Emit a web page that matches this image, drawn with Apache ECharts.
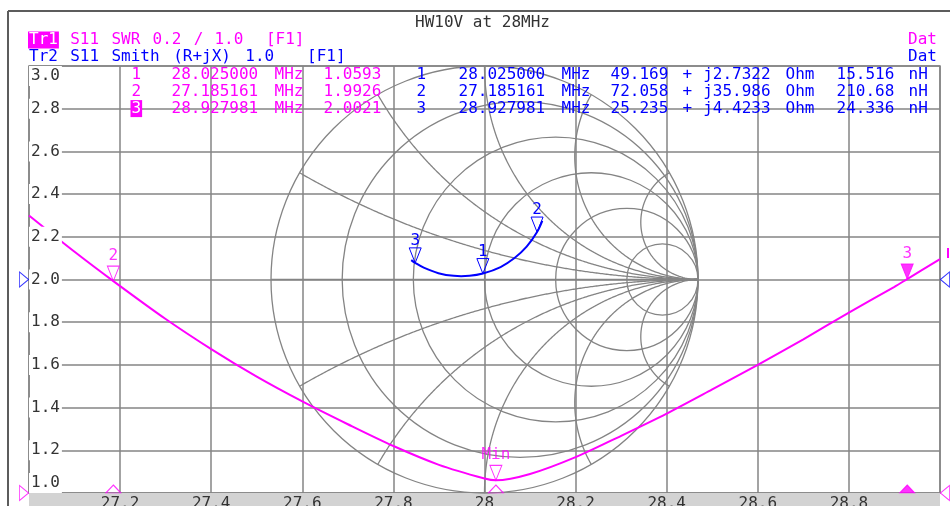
<!DOCTYPE html>
<html>
<head>
<meta charset="utf-8">
<script src="https://cdn.jsdelivr.net/npm/echarts@6/dist/echarts.min.js"></script>
<style>html,body{margin:0;padding:0;background:#fff}#c{width:950px;height:506px}</style>
</head>
<body>
<div id="c"></div>
<script>
// ---------------- data ----------------
const titleText = 'HW10V at 28MHz';
const trace1Name = 'Tr1';
const trace1Label = 'S11 SWR 0.2 / 1.0  [F1]';
const trace2Label = 'Tr2 S11 Smith (R+jX) 1.0   [F1]';
const dataLabel = 'Dat';

const xTicks = [27.0, 27.2, 27.4, 27.6, 27.8, 28.0, 28.2, 28.4, 28.6, 28.8, 29.0];
const xTickLabels = ['', '27.2', '27.4', '27.6', '27.8', '28', '28.2', '28.4', '28.6', '28.8', ''];
const yTicks = [1.0, 1.2, 1.4, 1.6, 1.8, 2.0, 2.2, 2.4, 2.6, 2.8, 3.0];
const yTickLabels = ['1.0', '1.2', '1.4', '1.6', '1.8', '2.0', '2.2', '2.4', '2.6', '2.8', '3.0'];

// SWR trace (Tr1)
const swrFreq = [27.0, 27.1, 27.185161, 27.3, 27.4, 27.5, 27.6, 27.7, 27.8, 27.9, 28.0, 28.025, 28.1, 28.2, 28.3, 28.4, 28.5, 28.6, 28.7, 28.8, 28.9, 28.927981, 29.0];
const swrValue = [2.30, 2.13, 1.9926, 1.815, 1.674, 1.545, 1.429, 1.322, 1.22, 1.132, 1.068, 1.0593, 1.089, 1.168, 1.268, 1.372, 1.485, 1.60, 1.72, 1.845, 1.966, 2.0021, 2.095];

// Smith trace (Tr2), impedance in Ohm
const smithFreq = [27.0, 27.185161, 27.4, 27.6, 27.8, 28.025, 28.2, 28.4, 28.6, 28.8, 28.927981, 29.0];
const smithR = [70.1, 72.058, 70.2, 64.8, 57.7, 49.169, 43.4, 37.4, 32.2, 27.7, 25.235, 24.1];
const smithX = [45.2, 35.986, 23.0, 13.4, 6.8, 2.7322, 1.5, 1.3, 2.0, 3.35, 4.4233, 5.0];
const z0 = 50;

// Markers
const markerNo = [1, 2, 3];
const markerFreq = [28.025000, 27.185161, 28.927981];
const markerSWR = [1.0593, 1.9926, 2.0021];
const markerR = [49.169, 72.058, 25.235];
const markerX = [2.7322, 35.986, 4.4233];
const markerL = [15.516, 210.68, 24.336];
const swrMarkerLabels = ['Min', '2', '3'];
const activeMarker = 2;

// Smith grid values
const smithRCircles = [0.2, 0.5, 1, 2, 5];
const smithXArcs = [0.2679, 0.5774, 1, 1.7321, 3.7321];

// reference levels
const swrRef = 1.0;
const smithRef = 2.0;

// ---------------- layout / style ----------------
const smithCenter = [28.0, 2.0];
const smithRadius = 1.0; // in SWR axis units
const MAG = '#ff00ff', BLUE = '#0000ff', TXT = '#333333', GRIDC = '#848484';
const FAM = '"DejaVu Sans Mono", monospace';
const FONT = '16px ' + FAM;
const PITCH = 10.3;

const xMin = xTicks[0], xMax = xTicks[xTicks.length - 1], xStep = +(xTicks[1] - xTicks[0]).toFixed(4);
const yMin = yTicks[0], yMax = yTicks[yTicks.length - 1], yStep = +(yTicks[1] - yTicks[0]).toFixed(4);
const lookup = (ticks, labels, v) => { const i = ticks.findIndex(t => Math.abs(t - v) < 1e-6); return i < 0 ? '' : labels[i]; };

function zGamma(r, x) { const d = (r + 1) * (r + 1) + x * x; return [(r * r + x * x - 1) / d, 2 * x / d]; }

function tokens(str, x0, y, color) {
  const out = []; const re = /\S+/g; let m;
  while ((m = re.exec(str))) {
    out.push({ type: 'text', x: x0 + m.index * PITCH, y: y, z: 20, silent: true,
      style: { text: m[0], font: FONT, fill: color, verticalAlign: 'middle' } });
  }
  return out;
}

const rowY = [75, 91.8, 108.6];
const gfx = [];
// frame
gfx.push({ type: 'line', z: 20, silent: true, shape: { x1: 8, y1: 11, x2: 950, y2: 11 }, style: { stroke: '#5c5c5c', lineWidth: 2 } });
gfx.push({ type: 'line', z: 20, silent: true, shape: { x1: 8, y1: 11, x2: 8, y2: 506 }, style: { stroke: '#5c5c5c', lineWidth: 2 } });
// grey axis bar
gfx.push({ type: 'rect', z: 1, silent: true, shape: { x: 29, y: 493, width: 911, height: 13 }, style: { fill: '#d3d3d3' } });
// title
gfx.push({ type: 'text', x: 482.5, y: 22.5, z: 20, silent: true, style: { text: titleText, font: FONT, fill: TXT, align: 'center', verticalAlign: 'middle' } });
// legend lines
gfx.push({ type: 'text', x: 28, y: 40, z: 20, silent: true, style: { text: trace1Name, font: FONT, fill: '#ffffff', backgroundColor: MAG, padding: [1, 1, 0, 1], verticalAlign: 'middle' } });
gfx.push(...tokens(trace1Label, 29 + 4 * PITCH, 40, MAG));
gfx.push(...tokens(trace2Label, 29, 57, BLUE));
gfx.push({ type: 'text', x: 908, y: 40, z: 20, silent: true, style: { text: dataLabel, font: FONT, fill: MAG, verticalAlign: 'middle' } });
gfx.push({ type: 'text', x: 908, y: 57, z: 20, silent: true, style: { text: dataLabel, font: FONT, fill: BLUE, verticalAlign: 'middle' } });
// marker table
markerNo.forEach((n, i) => {
  const y = rowY[i];
  if (i === activeMarker) {
    gfx.push({ type: 'text', x: 130.5, y: y, z: 20, silent: true, style: { text: String(n), font: FONT, fill: '#ffffff', backgroundColor: MAG, padding: [1, 1, 0, 1], verticalAlign: 'middle' } });
  } else {
    gfx.push(...tokens(String(n), 131.5, y, MAG));
  }
  gfx.push(...tokens(markerFreq[i].toFixed(6) + ' MHz', 171.5, y, MAG));
  gfx.push(...tokens(markerSWR[i].toFixed(4), 323.5, y, MAG));
  gfx.push(...tokens(String(n), 416.5, y, BLUE));
  gfx.push(...tokens(markerFreq[i].toFixed(6) + ' MHz', 458.5, y, BLUE));
  gfx.push(...tokens(markerR[i].toFixed(3) + ' + j' + markerX[i].toPrecision(5) + ' Ohm', 610.5, y, BLUE));
  gfx.push(...tokens(markerL[i].toPrecision(5) + ' nH', 836.5, y, BLUE));
});
gfx.push({ type: 'rect', z: 20, silent: true, shape: { x: 947, y: 248, width: 2, height: 10 }, style: { fill: MAG } });

const TRI_DOWN = 'path://M0,0L12,0L6,15Z';
const TRI_UP = 'path://M7.5,0L15,8L0,8Z';
const TRI_RIGHT = 'path://M0,0L9,7.5L0,15Z';
const TRI_LEFT = 'path://M9,0L0,7.5L9,15Z';
const CLEAR = 'rgba(0,0,0,0)';

const chart = echarts.init(document.getElementById('c'), null, { renderer: 'canvas' });
chart.setOption({
  animation: false,
  backgroundColor: '#ffffff',
  grid: { left: 29, right: 10, top: 66, bottom: 13, show: true, borderColor: GRIDC, borderWidth: 1.5, backgroundColor: 'transparent', containLabel: false, outerBoundsMode: 'none' },
  xAxis: [
    { type: 'value', min: xMin, max: xMax, interval: xStep, axisLine: { show: false }, axisTick: { show: false }, axisLabel: { show: false },
      splitLine: { show: true, lineStyle: { color: GRIDC, width: 1.5 } } },
    { type: 'value', position: 'bottom', min: xMin, max: xMax, interval: xStep, z: 10, axisLine: { show: false }, axisTick: { show: false }, splitLine: { show: false },
      axisLabel: { show: true, margin: 3, showMinLabel: false, showMaxLabel: false, color: TXT, fontFamily: FAM, fontSize: 16,
        formatter: v => lookup(xTicks, xTickLabels, v) } }
  ],
  yAxis: [
    { type: 'value', min: yMin, max: yMax, interval: yStep, axisLine: { show: false }, axisTick: { show: false }, axisLabel: { show: false },
      splitLine: { show: true, lineStyle: { color: GRIDC, width: 1.5 } } },
    { type: 'value', position: 'left', min: yMin, max: yMax, interval: yStep, z: 10, axisLine: { show: false }, axisTick: { show: false }, splitLine: { show: false },
      axisLabel: { show: true, inside: true, margin: 0, color: TXT, fontFamily: FAM, fontSize: 16, backgroundColor: '#ffffff', padding: [2, 2, 2, 2],
        verticalAlignMinLabel: 'bottom', verticalAlignMaxLabel: 'top',
        formatter: v => lookup(yTicks, yTickLabels, v) } }
  ],
  graphic: { elements: gfx },
  series: [
    { // Smith chart grid
      type: 'custom', xAxisIndex: 0, yAxisIndex: 0, z: 2, silent: true,
      data: [smithCenter],
      renderItem: function (params, api) {
        const c = api.coord([api.value(0), api.value(1)]);
        const R = api.size([0, smithRadius])[1];
        const P = g => [c[0] + g[0] * R, c[1] - g[1] * R];
        const st = { fill: 'none', stroke: GRIDC, lineWidth: 1.3 };
        const ch = [];
        ch.push({ type: 'circle', shape: { cx: c[0], cy: c[1], r: R }, style: st });
        smithRCircles.forEach(r => ch.push({ type: 'circle', shape: { cx: c[0] + R * r / (1 + r), cy: c[1], r: R / (1 + r) }, style: st }));
        smithXArcs.forEach(x => [1, -1].forEach(s => {
          const pts = []; const N = 300;
          for (let k = 0; k < N; k++) pts.push(P(zGamma(Math.tan(k / N * Math.PI / 2), s * x)));
          pts.push(P([1, 0]));
          ch.push({ type: 'polyline', shape: { points: pts }, style: st });
        }));
        ch.push({ type: 'line', shape: { x1: c[0] - R, y1: c[1], x2: c[0] + R, y2: c[1] }, style: st });
        return { type: 'group', children: ch };
      }
    },
    { // SWR trace
      type: 'line', xAxisIndex: 0, yAxisIndex: 0, z: 5, silent: true, showSymbol: false, smooth: 0.3,
      data: swrFreq.map((f, i) => [f, swrValue[i]]),
      lineStyle: { color: MAG, width: 2 }, itemStyle: { color: MAG }
    },
    { // Smith trace and markers
      type: 'custom', xAxisIndex: 0, yAxisIndex: 0, z: 6, silent: true,
      data: [smithCenter],
      renderItem: function (params, api) {
        const c = api.coord([api.value(0), api.value(1)]);
        const R = api.size([0, smithRadius])[1];
        const P = g => [c[0] + g[0] * R, c[1] - g[1] * R];
        const pts = smithFreq.map((f, i) => P(zGamma(smithR[i] / z0, smithX[i] / z0)));
        const ch = [{ type: 'polyline', shape: { points: pts, smooth: 0.35 }, style: { fill: 'none', stroke: BLUE, lineWidth: 2 } }];
        markerNo.forEach((n, i) => {
          const p = P(zGamma(markerR[i] / z0, markerX[i] / z0));
          ch.push({ type: 'polygon', shape: { points: [[p[0] - 6, p[1] - 15], [p[0] + 6, p[1] - 15], [p[0], p[1]]] }, style: { fill: 'none', stroke: BLUE, lineWidth: 1 } });
          ch.push({ type: 'text', x: p[0], y: p[1] - 22, style: { text: String(n), font: FONT, fill: BLUE, align: 'center', verticalAlign: 'middle' } });
        });
        return { type: 'group', children: ch };
      }
    },
    { // SWR markers
      type: 'scatter', xAxisIndex: 0, yAxisIndex: 0, z: 7, silent: true, clip: false,
      symbol: TRI_DOWN, symbolSize: [12, 15], symbolOffset: [0, '-50%'],
      label: { show: true, position: 'top', distance: 2, color: MAG, fontFamily: FAM, fontSize: 16 },
      data: markerFreq.map((f, i) => ({ value: [f, markerSWR[i]],
        itemStyle: { color: i === activeMarker ? MAG : CLEAR, borderColor: MAG, borderWidth: 1 },
        label: { formatter: swrMarkerLabels[i] } }))
    },
    { // marker position indicators on the frequency axis
      type: 'scatter', xAxisIndex: 0, yAxisIndex: 0, z: 7, silent: true, clip: false,
      symbol: TRI_UP, symbolSize: [15, 8], symbolOffset: [0, '-50%'],
      data: markerFreq.map((f, i) => ({ value: [f, yMin],
        itemStyle: { color: i === activeMarker ? MAG : CLEAR, borderColor: MAG, borderWidth: 1 } }))
    },
    { // reference level indicators
      type: 'scatter', xAxisIndex: 0, yAxisIndex: 0, z: 7, silent: true, clip: false,
      symbolSize: [9, 15],
      data: [
        { value: [xMin, swrRef], symbol: TRI_RIGHT, symbolOffset: [-5, 0], itemStyle: { color: CLEAR, borderColor: MAG, borderWidth: 1 } },
        { value: [xMin, smithRef], symbol: TRI_RIGHT, symbolOffset: [-5, 0], itemStyle: { color: CLEAR, borderColor: BLUE, borderWidth: 1 } },
        { value: [xMax, smithRef], symbol: TRI_LEFT, symbolOffset: [5, 0], itemStyle: { color: CLEAR, borderColor: BLUE, borderWidth: 1 } },
        { value: [xMax, swrRef], symbol: TRI_LEFT, symbolOffset: [5, 0], itemStyle: { color: CLEAR, borderColor: MAG, borderWidth: 1 } }
      ]
    }
  ]
});
</script>
</body>
</html>
